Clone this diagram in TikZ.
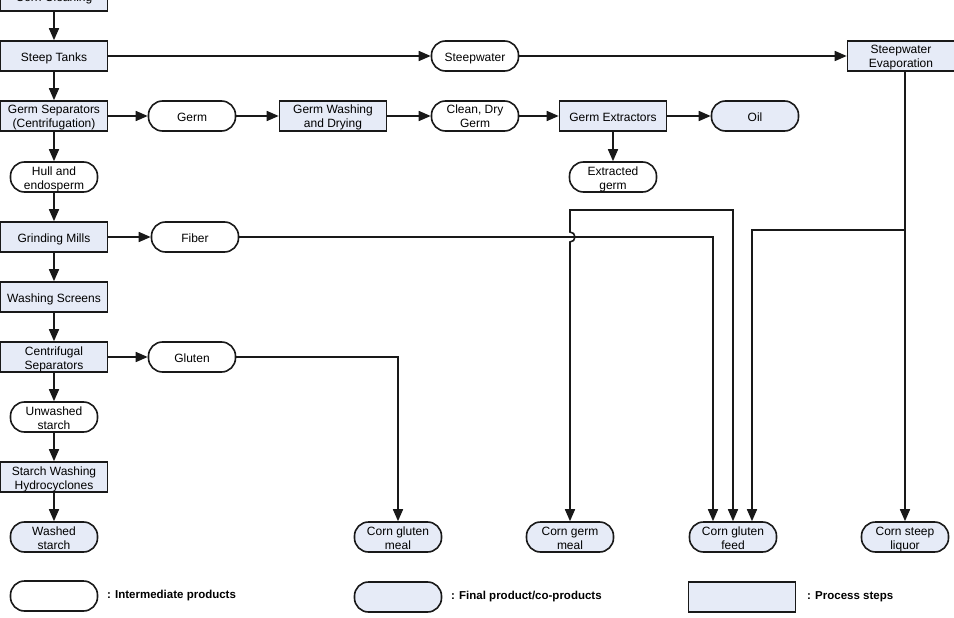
\documentclass[tikz,border=0pt]{standalone}
\usepackage{fontspec}
\setmainfont{Liberation Sans}
\usepackage{xcolor}
\usetikzlibrary{arrows.meta,positioning}
\definecolor{procfill}{RGB}{230,235,247}
\definecolor{edgecol}{RGB}{25,25,25}

\begin{document}
\begin{tikzpicture}[x=1pt, y=-1pt, line width=1.6pt, draw=edgecol,
  font=\fontsize{12}{14}\selectfont,
  arr/.style={-{Triangle[length=12pt, width=10pt]}},
  proc/.style={draw=edgecol, fill=procfill, minimum width=107pt, minimum height=30pt, inner sep=0pt, text height=13pt, text depth=2.5pt, align=center},
  inter/.style={draw=edgecol, fill=white, rounded corners=14pt, minimum width=87pt, minimum height=30pt, inner sep=0pt, text height=13pt, text depth=2.5pt, align=center},
  final/.style={inter, fill=procfill},
  two/.style={text height=26.5pt, text depth=2.5pt},
  legtext/.style={font=\bfseries\fontsize{11.5}{13}\selectfont, inner sep=0pt}]
  \useasboundingbox (0,0) rectangle (954,618);

  % Main line (left column)
  \node[proc]  (corn)    at (54,-4)  {Corn Cleaning};
  \node[proc]  (steep)   at (54,56)  {Steep Tanks};
  \node[proc, two]  (gsep)    at (54,116) {Germ Separators\\(Centrifugation)};
  \node[inter, two] (hull)    at (54,177) {Hull and\\endosperm};
  \node[proc]  (grind)   at (54,237) {Grinding Mills};
  \node[proc]  (wash)    at (54,297) {Washing Screens};
  \node[proc, two]  (csep)    at (54,357) {Centrifugal\\Separators};
  \node[inter, two] (unw)     at (54,417) {Unwashed\\starch};
  \node[proc, two]  (hydro)   at (54,477) {Starch Washing\\Hydrocyclones};
  \node[final, two] (wstarch) at (54,537) {Washed\\starch};

  % Side streams
  \node[inter] (germ)   at (192,116) {Germ};
  \node[inter] (fiber)  at (195,237) {Fiber};
  \node[inter] (gluten) at (192,357) {Gluten};
  \node[proc, two]  (gwash)  at (333,116) {Germ Washing\\and Drying};
  \node[inter] (swater) at (475,56)  {Steepwater};
  \node[inter, two] (cdgerm) at (475,116) {Clean, Dry\\Germ};
  \node[proc]  (gext)   at (613,116) {Germ Extractors};
  \node[final] (oil)    at (755,116) {Oil};
  \node[inter, two] (exgerm) at (613,177) {Extracted\\germ};
  \node[proc, two]  (evap)   at (901,56)  {Steepwater\\Evaporation};

  % Final products
  \node[final, two] (cgm)   at (398,537) {Corn gluten\\meal};
  \node[final, two] (cgerm) at (570,537) {Corn germ\\meal};
  \node[final, two] (cgf)   at (733,537) {Corn gluten\\feed};
  \node[final, two] (csl)   at (905,537) {Corn steep\\liquor};

  % Straight arrows
  \foreach \a/\b in {corn/steep, steep/gsep, gsep/hull, hull/grind, grind/wash,
                     wash/csep, csep/unw, unw/hydro, hydro/wstarch,
                     steep/swater, swater/evap, gsep/germ, germ/gwash, gwash/cdgerm,
                     cdgerm/gext, gext/oil, gext/exgerm, grind/fiber, csep/gluten}
    \draw[arr] (\a) -- (\b);

  % Gluten to corn gluten meal
  \draw[arr] (gluten.east) -| (cgm.north);

  % Extracted germ to germ meal and gluten feed
  \coordinate (egj) at (exgerm.south |- 0,210);
  \draw[arr] (egj) -- (cgerm.north |- egj) -- (cgerm.north |- 0,232)
    arc[start angle=90, end angle=-90, radius=5pt] -- (cgerm.north);
  \draw[arr] (egj) -| (cgf.north);

  % Fiber to gluten feed
  \draw[arr] (fiber.east) -| ([xshift=-20pt]cgf.north);

  % Steep liquor and branch to gluten feed
  \draw[arr] (evap.south -| csl.north) -- (csl.north);
  \coordinate (ej) at (csl.north |- 0,230);
  \draw[arr] (ej) -| ([xshift=19pt]cgf.north);

  % Legend
  \node[inter] (lg1) at (54,596) {};
  \node[legtext, right=8pt of lg1] {: Intermediate products};
  \node[final] (lg2) at (398,597) {};
  \node[legtext, right=8pt of lg2] {: Final product/co-products};
  \node[proc]  (lg3) at (742,597) {};
  \node[legtext, right=10pt of lg3] {: Process steps};
\end{tikzpicture}
\end{document}
